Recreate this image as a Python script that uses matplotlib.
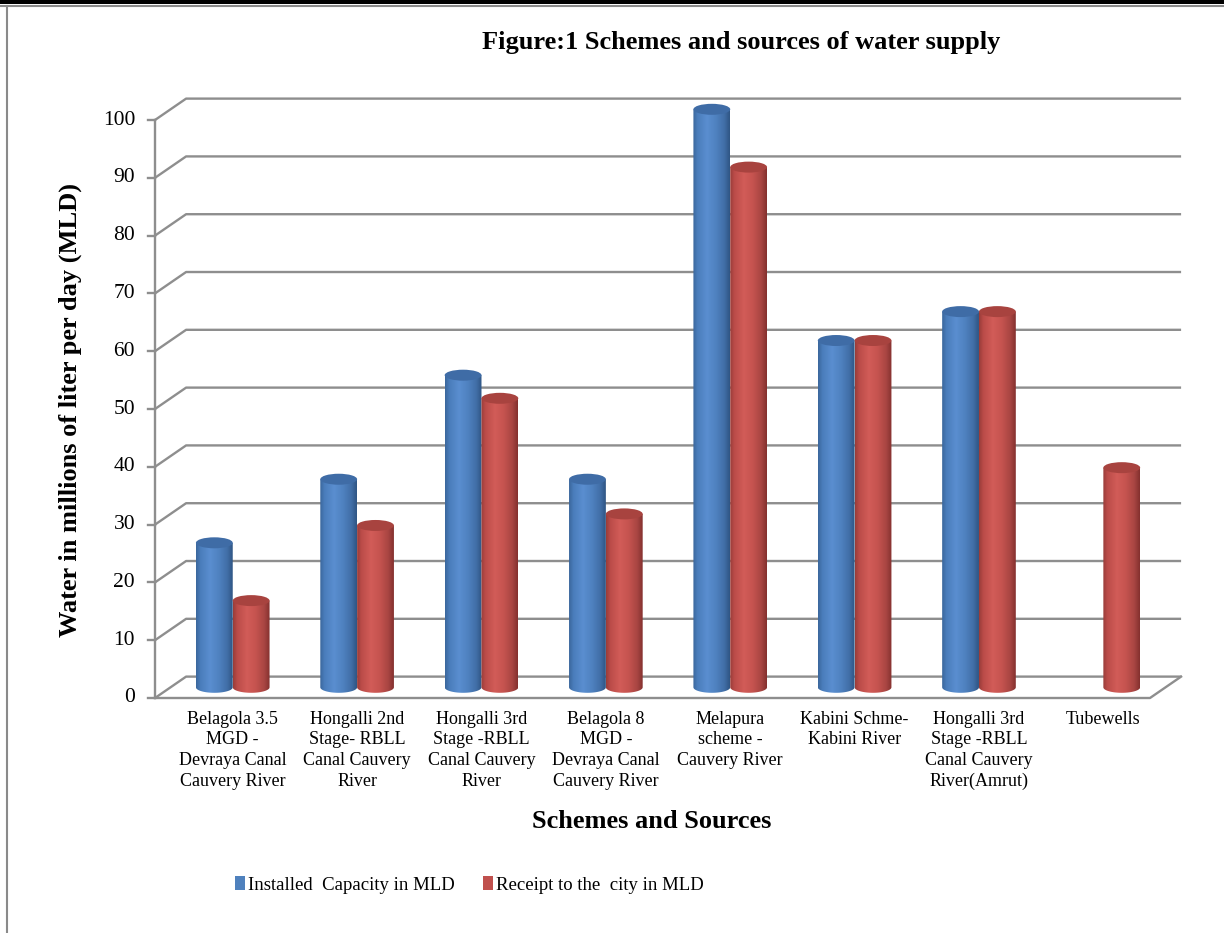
import numpy as np
import matplotlib.pyplot as plt
from matplotlib.patches import Ellipse, PathPatch, Rectangle, Patch
from matplotlib.path import Path
from matplotlib.lines import Line2D
from matplotlib.colors import LinearSegmentedColormap

plt.rcParams['font.family'] = ['Liberation Serif', 'DejaVu Serif']

schemes = ['Belagola 3.5\nMGD -\nDevraya Canal\nCauvery River',
           'Hongalli 2nd\nStage- RBLL\nCanal Cauvery\nRiver',
           'Hongalli 3rd\nStage -RBLL\nCanal Cauvery\nRiver',
           'Belagola 8\nMGD -\nDevraya Canal\nCauvery River',
           'Melapura\nscheme -\nCauvery River',
           'Kabini Schme-\nKabini River',
           'Hongalli 3rd\nStage -RBLL\nCanal Cauvery\nRiver(Amrut)',
           'Tubewells']
installed = [25, 36, 54, 36, 100, 60, 65, 0]
receipt = [15, 28, 50, 30, 90, 60, 65, 38]
yticks = list(range(0, 101, 10))
series_names = ['Installed  Capacity in MLD', 'Receipt to the  city in MLD']

W, H = 1224, 933
fig = plt.figure(figsize=(W / 100, H / 100), dpi=100)
fig.patch.set_facecolor('white')

# pixel size of one category / one MLD, and where the front origin sits
ux, uy = 124.375, 5.78
x0px, y0px = 155, 698
xlim, ylim = (-1.1, 8.6), (-6, 106)
left = x0px + xlim[0] * ux
right = x0px + xlim[1] * ux
top = y0px - ylim[1] * uy
bottom = y0px - ylim[0] * uy
ax = fig.add_axes([left / W, 1 - bottom / H, (right - left) / W, (bottom - top) / H])
ax.set_axis_off()

n = len(schemes)
dx, dy = 0.25, 3.7          # depth of the 3d box in data units
grid_c = '#8e8e8e'
lw = 1.7

# walls: gridlines run from the front axis diagonally back, then along the back wall
for v in yticks:
    ax.plot([0, dx, n + dx], [v, v + dy, v + dy], color=grid_c, lw=lw, zorder=1,
            solid_capstyle='butt')
    ax.plot([-0.06, 0], [v, v], color=grid_c, lw=lw, zorder=1)
    ax.text(-0.16, v, str(v), ha='right', va='center', fontsize=15.5)
ax.plot([0, 0], [0, 100], color=grid_c, lw=lw, zorder=1)
# floor front edge and right side
ax.plot([0, n, n + dx], [0, 0, dy], color=grid_c, lw=lw, zorder=1)

blue_cmap = LinearSegmentedColormap.from_list('b', [
    (0, '#3a669b'), (0.12, '#4a7dbb'), (0.38, '#5a8ed0'),
    (0.62, '#4f82c0'), (0.85, '#416ea7'), (1, '#2f5583')])
red_cmap = LinearSegmentedColormap.from_list('r', [
    (0, '#983c39'), (0.12, '#bb4c49'), (0.38, '#d25c58'),
    (0.62, '#c5534f'), (0.85, '#a84542'), (1, '#83302e')])

hw, eh = 0.148, 1.9
base = dy / 2
grad = np.linspace(0, 1, 256).reshape(1, -1)


def cylinder(cx, val, cmap, top_color):
    if val <= 0:
        return
    yt = base + val
    t = np.linspace(np.pi, 2 * np.pi, 40)
    lower = np.column_stack([cx + hw * np.cos(t), base + eh / 2 * np.sin(t)])
    verts = np.vstack([[cx - hw, yt], lower, [cx + hw, yt], [cx - hw, yt]])
    clip = PathPatch(Path(verts, closed=True), transform=ax.transData,
                     facecolor='none', edgecolor='none')
    ax.add_patch(clip)
    im = ax.imshow(grad, extent=(cx - hw, cx + hw, base - eh / 2, yt), cmap=cmap,
                   aspect='auto', interpolation='bilinear', zorder=3)
    im.set_clip_path(clip)
    ax.add_patch(Ellipse((cx, yt), 2 * hw, eh, facecolor=top_color,
                         edgecolor='none', zorder=4))


for i in range(n):
    mid = i + 0.5 + dx / 2
    cylinder(mid - hw, installed[i], blue_cmap, '#3f6ca6')
    cylinder(mid + hw, receipt[i], red_cmap, '#a8433f')
    ax.text(mid, -2.2, schemes[i], ha='center', va='top', fontsize=13,
            linespacing=1.28)

ax.set_xlim(*xlim)
ax.set_ylim(*ylim)

fig.text(741 / W, 1 - 43 / H, 'Figure:1 Schemes and sources of water supply',
         ha='center', va='center', fontsize=19, fontweight='bold')
fig.text(70 / W, 1 - 410 / H, 'Water in millions of liter per day (MLD)',
         ha='center', va='center', rotation=90, fontsize=19, fontweight='bold')
fig.text(652 / W, 1 - 821 / H, 'Schemes and Sources',
         ha='center', va='center', fontsize=19, fontweight='bold')

handles = [Patch(facecolor='#4f81bd'), Patch(facecolor='#c0504d')]
fig.legend(handles, series_names, loc='center left', bbox_to_anchor=(222 / W, 1 - 885 / H),
           ncol=2, frameon=False, fontsize=13.5, handlelength=0.55, handleheight=0.75,
           handletextpad=0.15, columnspacing=1.5, borderpad=0.2)

# page border
fig.add_artist(Rectangle((0, 1 - 4 / H), 1, 4 / H, transform=fig.transFigure,
                         facecolor='black', edgecolor='none'))
fig.add_artist(Line2D([0, 1], [1 - 6 / H] * 2, transform=fig.transFigure,
                      color='#8a8a8a', lw=1.5))
fig.add_artist(Line2D([7 / W] * 2, [0, 1 - 6 / H], transform=fig.transFigure,
                      color='#8a8a8a', lw=1.5))

fig.savefig('out.png', dpi=100)
